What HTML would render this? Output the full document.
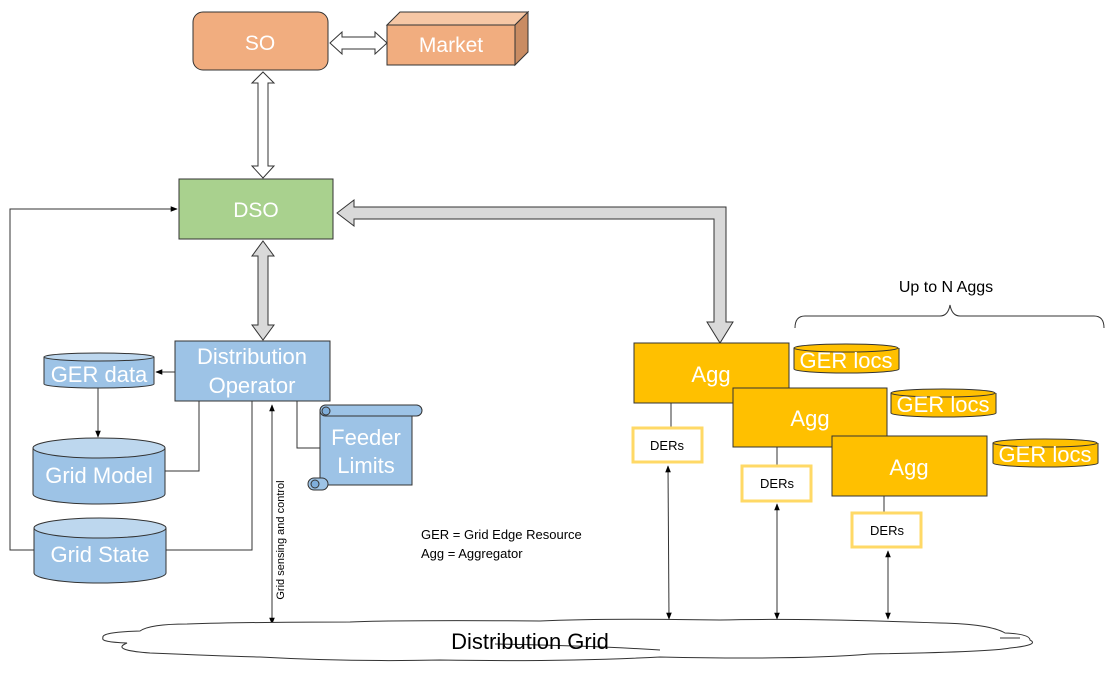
<!DOCTYPE html>
<html><head><meta charset="utf-8"><style>
html,body{margin:0;padding:0;background:#fff;}
svg{display:block;font-family:"Liberation Sans",sans-serif;}
</style></head><body>
<svg width="1119" height="685" viewBox="0 0 1119 685" xmlns="http://www.w3.org/2000/svg">
<defs>
<marker id="ah" viewBox="0 0 10 10" refX="9" refY="5" markerWidth="7" markerHeight="7" orient="auto-start-reverse"><path d="M0,1 L10,5 L0,9 z" fill="#000"/></marker>
</defs>
<rect x="193" y="12" width="135" height="58" rx="10" fill="#F1AD7F" stroke="#333" stroke-width="1"/>
<text x="260" y="50" font-size="21" fill="#fff" text-anchor="middle">SO</text>
<polygon points="387,25 400,12 528,12 515,25" fill="#F6C7A5" stroke="#333"/>
<polygon points="515,25 528,12 528,52 515,65" fill="#C98C63" stroke="#333"/>
<rect x="387" y="25" width="128" height="40" fill="#F1AD7F" stroke="#333"/>
<text x="451" y="52" font-size="21" fill="#fff" text-anchor="middle">Market</text>
<polygon points="330,43 342,32 342,37 375,37 375,32 387,43 375,54 375,49 342,49 342,54" fill="#fff" stroke="#333"/>
<polygon points="263,72 274,83 268,83 268,166 274,166 263,178 252,166 258,166 258,83 252,83" fill="#fff" stroke="#333"/>
<rect x="179" y="179" width="154" height="60" fill="#A9D18E" stroke="#333"/>
<text x="256" y="217" font-size="21" fill="#fff" text-anchor="middle">DSO</text>
<polygon points="337,213 354,200 354,207 726,207 726,322 733,322 720,343 707,322 714,322 714,219 354,219 354,226" fill="#D9D9D9" stroke="#333"/>
<polygon points="263,241 274,256 268,256 268,325 274,325 263,340 252,325 258,325 258,256 252,256" fill="#D9D9D9" stroke="#333"/>
<rect x="175" y="341" width="155" height="60" fill="#9DC3E6" stroke="#333"/>
<text x="252" y="364" font-size="22" fill="#fff" text-anchor="middle">Distribution</text>
<text x="252" y="393" font-size="22" fill="#fff" text-anchor="middle">Operator</text>
<g stroke="#333" fill="#9DC3E6">
<path d="M44,357 L44,384 A55,4 0 0 0 154,384 L154,357"/>
<ellipse cx="99" cy="357" rx="55" ry="4" fill="#BDD7EE"/>
<path d="M33,448 L33,494 A66,10 0 0 0 165,494 L165,448"/>
<ellipse cx="99" cy="448" rx="66" ry="10" fill="#BDD7EE"/>
<path d="M34,528 L34,573 A66,10 0 0 0 166,573 L166,528"/>
<ellipse cx="100" cy="528" rx="66" ry="10" fill="#BDD7EE"/>
</g>
<text x="99" y="382" font-size="22" fill="#fff" text-anchor="middle">GER data</text>
<text x="99" y="483" font-size="22" fill="#fff" text-anchor="middle">Grid Model</text>
<text x="100" y="562" font-size="22" fill="#fff" text-anchor="middle">Grid State</text>
<g stroke="#333" fill="#9DC3E6">
<rect x="320" y="411" width="92" height="74" />
<rect x="320" y="405" width="102" height="11" rx="5.5"/>
<rect x="308" y="478" width="20" height="12" rx="6"/>
<circle cx="326" cy="411" r="4" fill="#7FAEDB"/>
<circle cx="315" cy="484" r="4" fill="#7FAEDB"/>
</g>
<text x="366" y="445" font-size="22" fill="#fff" text-anchor="middle">Feeder</text>
<text x="366" y="473" font-size="22" fill="#fff" text-anchor="middle">Limits</text>
<g stroke="#333" fill="none" stroke-width="1">
<polyline points="34,550 10,550 10,209 177,209" marker-end="url(#ah)"/>
<line x1="175" y1="372" x2="156" y2="372" marker-end="url(#ah)"/>
<line x1="98" y1="388" x2="98" y2="437" marker-end="url(#ah)"/>
<polyline points="199,401 199,471 165,471"/>
<polyline points="252,401 252,550 166,550"/>
<polyline points="297,401 297,448 320,448"/>
<line x1="272" y1="405" x2="272" y2="624" marker-start="url(#ah)" marker-end="url(#ah)"/>
<line x1="671" y1="403" x2="671" y2="427"/>
<line x1="777" y1="447" x2="777" y2="465"/>
<line x1="884" y1="496" x2="884" y2="512"/>
<line x1="668" y1="466" x2="669" y2="619" marker-start="url(#ah)" marker-end="url(#ah)"/>
<line x1="777" y1="504" x2="777" y2="619" marker-start="url(#ah)" marker-end="url(#ah)"/>
<line x1="888" y1="551" x2="888" y2="619" marker-start="url(#ah)" marker-end="url(#ah)"/>
<path d="M795,328 Q795,316 805,316 L940,316 Q948,316 950,305 Q952,316 960,316 L1094,316 Q1104,316 1104,328"/>
</g>
<text x="284" y="540" font-size="11" fill="#000" text-anchor="middle" transform="rotate(-90 284 540)">Grid sensing and control</text>
<text x="421" y="539" font-size="13" fill="#000">GER = Grid Edge Resource</text>
<text x="421" y="558" font-size="13" fill="#000">Agg = Aggregator</text>
<text x="946" y="292" font-size="16" fill="#000" text-anchor="middle">Up to N Aggs</text>
<g stroke="#333" fill="#FFC000">
<rect x="634" y="343" width="155" height="60"/>
<rect x="733" y="388" width="154" height="59"/>
<rect x="832" y="436" width="155" height="60"/>
<path d="M794,348 L794,369 A52,4 0 0 0 899,369 L899,348"/>
<ellipse cx="846" cy="348" rx="52" ry="4"/>
<path d="M891,393 L891,413 A52,4 0 0 0 996,413 L996,393"/>
<ellipse cx="943" cy="393" rx="52" ry="4"/>
<path d="M993,443 L993,463 A52,4 0 0 0 1098,463 L1098,443"/>
<ellipse cx="1045" cy="443" rx="52" ry="4"/>
</g>
<g font-size="22" fill="#fff" text-anchor="middle">
<text x="711" y="382">Agg</text>
<text x="810" y="426">Agg</text>
<text x="909" y="475">Agg</text>
<text x="846" y="368">GER locs</text>
<text x="943" y="412">GER locs</text>
<text x="1045" y="462">GER locs</text>
</g>
<g fill="#fff" stroke="#FFD966" stroke-width="3">
<rect x="633" y="428" width="69" height="34"/>
<rect x="742" y="466" width="69" height="35"/>
<rect x="852" y="513" width="69" height="34"/>
</g>
<g font-size="13" fill="#000" text-anchor="middle">
<text x="667" y="450">DERs</text>
<text x="777" y="488">DERs</text>
<text x="887" y="535">DERs</text>
</g>
<path d="M187,624 Q150,624 140,631 Q100,632 103,638 Q100,642 127,643 Q110,650 150,653 Q220,656 260,657 Q350,662 440,660 Q560,662 660,657 Q800,660 870,654 Q990,652 1010,648 Q1040,645 1030,640 Q1030,634 1005,633 Q990,624 940,623 Q800,618 720,620 Q600,618 540,621 Q400,620 350,622 Q250,622 187,624 Z" fill="#fff" stroke="#333"/>
<path d="M495,644 Q600,646 660,650 M1000,638 L1020,638" stroke="#333" fill="none"/>
<text x="530" y="649" font-size="22" fill="#000" text-anchor="middle">Distribution Grid</text>
</svg>
</body></html>
